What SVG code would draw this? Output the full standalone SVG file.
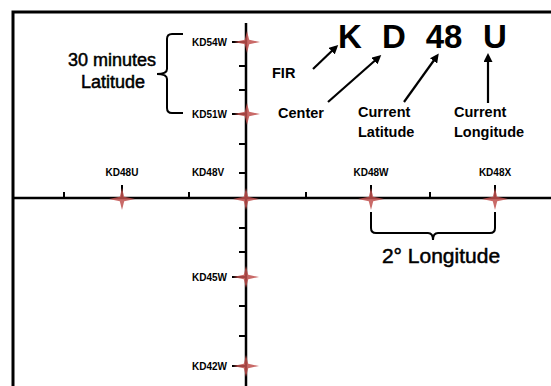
<svg xmlns="http://www.w3.org/2000/svg" width="551" height="386" viewBox="0 0 551 386">
<defs>
<style>
.ax{stroke:#000;stroke-width:2.5;fill:none}
.tk{stroke:#000;stroke-width:2;fill:none}
.lbl{font-family:"Liberation Sans",Arial,sans-serif;font-weight:bold;font-size:10px;fill:#000}
.cap{font-family:"Liberation Sans",Arial,sans-serif;font-weight:bold;font-size:14.5px;fill:#000}
.big{font-family:"Liberation Sans",Arial,sans-serif;font-weight:bold;font-size:33px;fill:#000;text-anchor:middle}
.note{font-family:"Liberation Sans",Arial,sans-serif;font-size:18px;fill:#000;stroke:#000;stroke-width:0.5}
.star{fill:#c0504d;fill-opacity:0.85}
.arr{stroke:#000;stroke-width:2.2;fill:none;marker-end:url(#ah)}
.br{stroke:#000;stroke-width:2;fill:none}
</style>
<marker id="ah" markerWidth="9" markerHeight="9" refX="6" refY="4.5" orient="auto" markerUnits="userSpaceOnUse">
<path d="M0,0 L9,4.5 L0,9 Z" fill="#000"/>
</marker>
<path id="st" d="M0,-11 L2.2,-2.2 L13,0 L2.2,2.2 L0,11 L-2.2,2.2 L-13,0 L-2.2,-2.2 Z"/>
</defs>
<rect width="551" height="386" fill="#fff"/>
<g id="frame">
<path d="M13,400 L13,12 L560,12" stroke="#000" stroke-width="3" fill="none"/>
</g>
<g id="axes">
<line class="ax" x1="13" y1="198" x2="551" y2="198"/>
<line class="ax" x1="246" y1="23" x2="246" y2="386"/>
<g class="tk">
<line x1="239" y1="66" x2="246" y2="66"/>
<line x1="239" y1="90" x2="246" y2="90"/>
<line x1="239" y1="144" x2="246" y2="144"/>
<line x1="239" y1="173" x2="246" y2="173"/>
<line x1="239" y1="228" x2="246" y2="228"/>
<line x1="239" y1="252" x2="246" y2="252"/>
<line x1="239" y1="306" x2="246" y2="306"/>
<line x1="239" y1="336" x2="246" y2="336"/>
<line x1="232" y1="42" x2="246" y2="42"/>
<line x1="232" y1="114" x2="246" y2="114"/>
<line x1="232" y1="277" x2="246" y2="277"/>
<line x1="232" y1="366" x2="246" y2="366"/>
<line x1="64" y1="192" x2="64" y2="198"/>
<line x1="189" y1="192" x2="189" y2="198"/>
<line x1="306" y1="192" x2="306" y2="198"/>
<line x1="430" y1="192" x2="430" y2="198"/>
<line x1="122" y1="185" x2="122" y2="198"/>
<line x1="371" y1="185" x2="371" y2="198"/>
<line x1="495" y1="185" x2="495" y2="198"/>
</g>
</g>
<g id="n-kd54w"><use href="#st" class="star" x="247" y="42"/><text class="lbl" x="227" y="46" text-anchor="end">KD54W</text></g>
<g id="n-kd51w"><use href="#st" class="star" x="247" y="114"/><text class="lbl" x="227" y="118" text-anchor="end">KD51W</text></g>
<g id="n-kd45w"><use href="#st" class="star" x="246" y="277"/><text class="lbl" x="227" y="281" text-anchor="end">KD45W</text></g>
<g id="n-kd42w"><use href="#st" class="star" x="246" y="366"/><text class="lbl" x="227" y="370" text-anchor="end">KD42W</text></g>
<g id="n-kd48u"><use href="#st" class="star" x="122" y="199"/><text class="lbl" x="122" y="176" text-anchor="middle">KD48U</text></g>
<g id="n-kd48v"><use href="#st" class="star" x="246" y="199"/><text class="lbl" x="208" y="176" text-anchor="middle">KD48V</text></g>
<g id="n-kd48w"><use href="#st" class="star" x="371" y="199"/><text class="lbl" x="371" y="176" text-anchor="middle">KD48W</text></g>
<g id="n-kd48x"><use href="#st" class="star" x="495" y="199"/><text class="lbl" x="495" y="176" text-anchor="middle">KD48X</text></g>
<g id="n-code">
<text class="big" x="350" y="48">K</text>
<text class="big" x="394" y="48">D</text>
<text class="big" x="444" y="48">48</text>
<text class="big" x="495" y="48">U</text>
</g>
<g id="n-fir"><text class="cap" x="272" y="78">FIR</text></g>
<g id="n-center"><text class="cap" x="278" y="118">Center</text></g>
<g id="n-curlat"><text class="cap" x="358" y="117">Current</text><text class="cap" x="358" y="137">Latitude</text></g>
<g id="n-curlon"><text class="cap" x="454" y="117">Current</text><text class="cap" x="454" y="137">Longitude</text></g>
<g id="n-lat30">
<path class="br" d="M183,34 L172,34 Q167,34 167,39 L167,69 Q167,74 157,74 Q167,74 167,79 L167,108 Q167,113 172,113 L183,113"/>
<text class="note" x="112" y="66" text-anchor="middle">30 minutes</text>
<text class="note" x="113" y="88" text-anchor="middle">Latitude</text>
</g>
<g id="n-lon2">
<path class="br" d="M371,212 L371,228 Q371,233 376,233 L428,233 Q433,233 433,240 Q433,233 438,233 L490,233 Q495,233 495,228 L495,212"/>
<text class="note" x="441" y="263" text-anchor="middle" style="font-size:21px">2° Longitude</text>
</g>
<g id="connectors">
<line class="arr" x1="313" y1="69" x2="336" y2="47"/>
<line class="arr" x1="328" y1="102" x2="379" y2="57"/>
<line class="arr" x1="404" y1="102" x2="437" y2="56"/>
<line class="arr" x1="488" y1="103" x2="488" y2="56"/>
</g>
</svg>
